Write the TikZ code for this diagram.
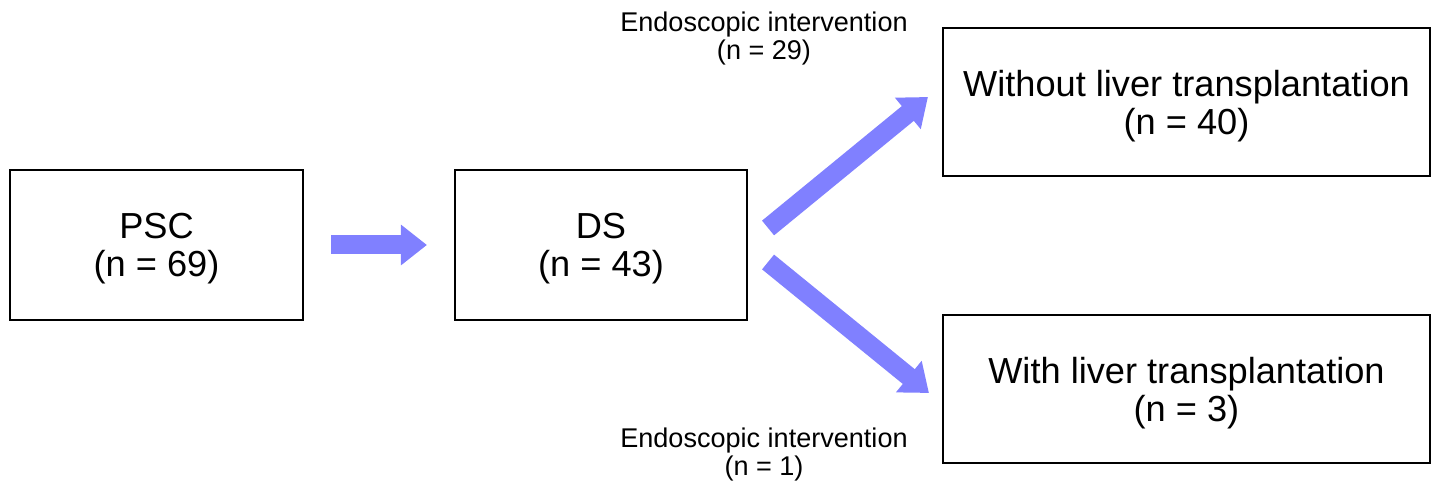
\documentclass[tikz,border=0pt]{standalone}
\usepackage{fontspec}
\setmainfont{Liberation Sans}
\usepackage{tikz}
\usetikzlibrary{arrows.meta,calc}
\usepackage{xcolor}
\definecolor{arrowblue}{HTML}{8080FF}

\begin{document}
\begin{tikzpicture}[
              x=1cm,
              y=1cm,
              box/.style={draw=black, line width=0.6pt, fill=white, align=center, inner sep=0pt, text depth=0pt, font=\fontsize{10.3}{10.8}\selectfont},
              note/.style={align=center, inner sep=0pt, font=\fontsize{7.7}{7.7}\selectfont},
              fatarrow/.style={draw=arrowblue, line width=0.19cm, -{Triangle[length=0.26cm, width=0.39cm]}}
            ]
            \useasboundingbox (0,0) rectangle (14.34,-4.86);

            \node[box, minimum width=2.93cm, minimum height=1.50cm] (psc) at (1.565,-2.45) {
              PSC\\
              (n = 69)
            };
            \node[box, minimum width=2.92cm, minimum height=1.50cm] (ds) at (6.01,-2.45) {
              DS\\
              (n = 43)
            };
            \node[box, minimum width=4.87cm, minimum height=1.48cm] (nolt) at (11.865,-1.02) {
              Without liver transplantation\\
              (n = 40)
            };
            \node[box, minimum width=4.87cm, minimum height=1.48cm] (withlt) at (11.865,-3.89) {
              With liver transplantation\\
              (n = 3)
            };

            \node[note] (endoup) at (7.64,-0.385) {
              Endoscopic intervention\\
              (n = 29)
            };
            \node[note] (endodown) at (7.64,-4.545) {
              Endoscopic intervention\\
              (n = 1)
            };

            \coordinate (upfrom) at ($(ds.east)+(0.20,0.17)$);
            \coordinate (upto) at ($(nolt.west)+(-0.14,0.05)$);
            \coordinate (downfrom) at ($(ds.east)+(0.20,-0.17)$);
            \coordinate (downto) at ($(withlt.west)+(-0.13,-0.04)$);

            \draw[fatarrow, shorten <=0.27cm, shorten >=0.27cm] (psc.east) -- (ds.west);
            \draw[fatarrow] (upfrom) -- (upto);
            \draw[fatarrow] (downfrom) -- (downto);
            \end{tikzpicture}
\end{document}
